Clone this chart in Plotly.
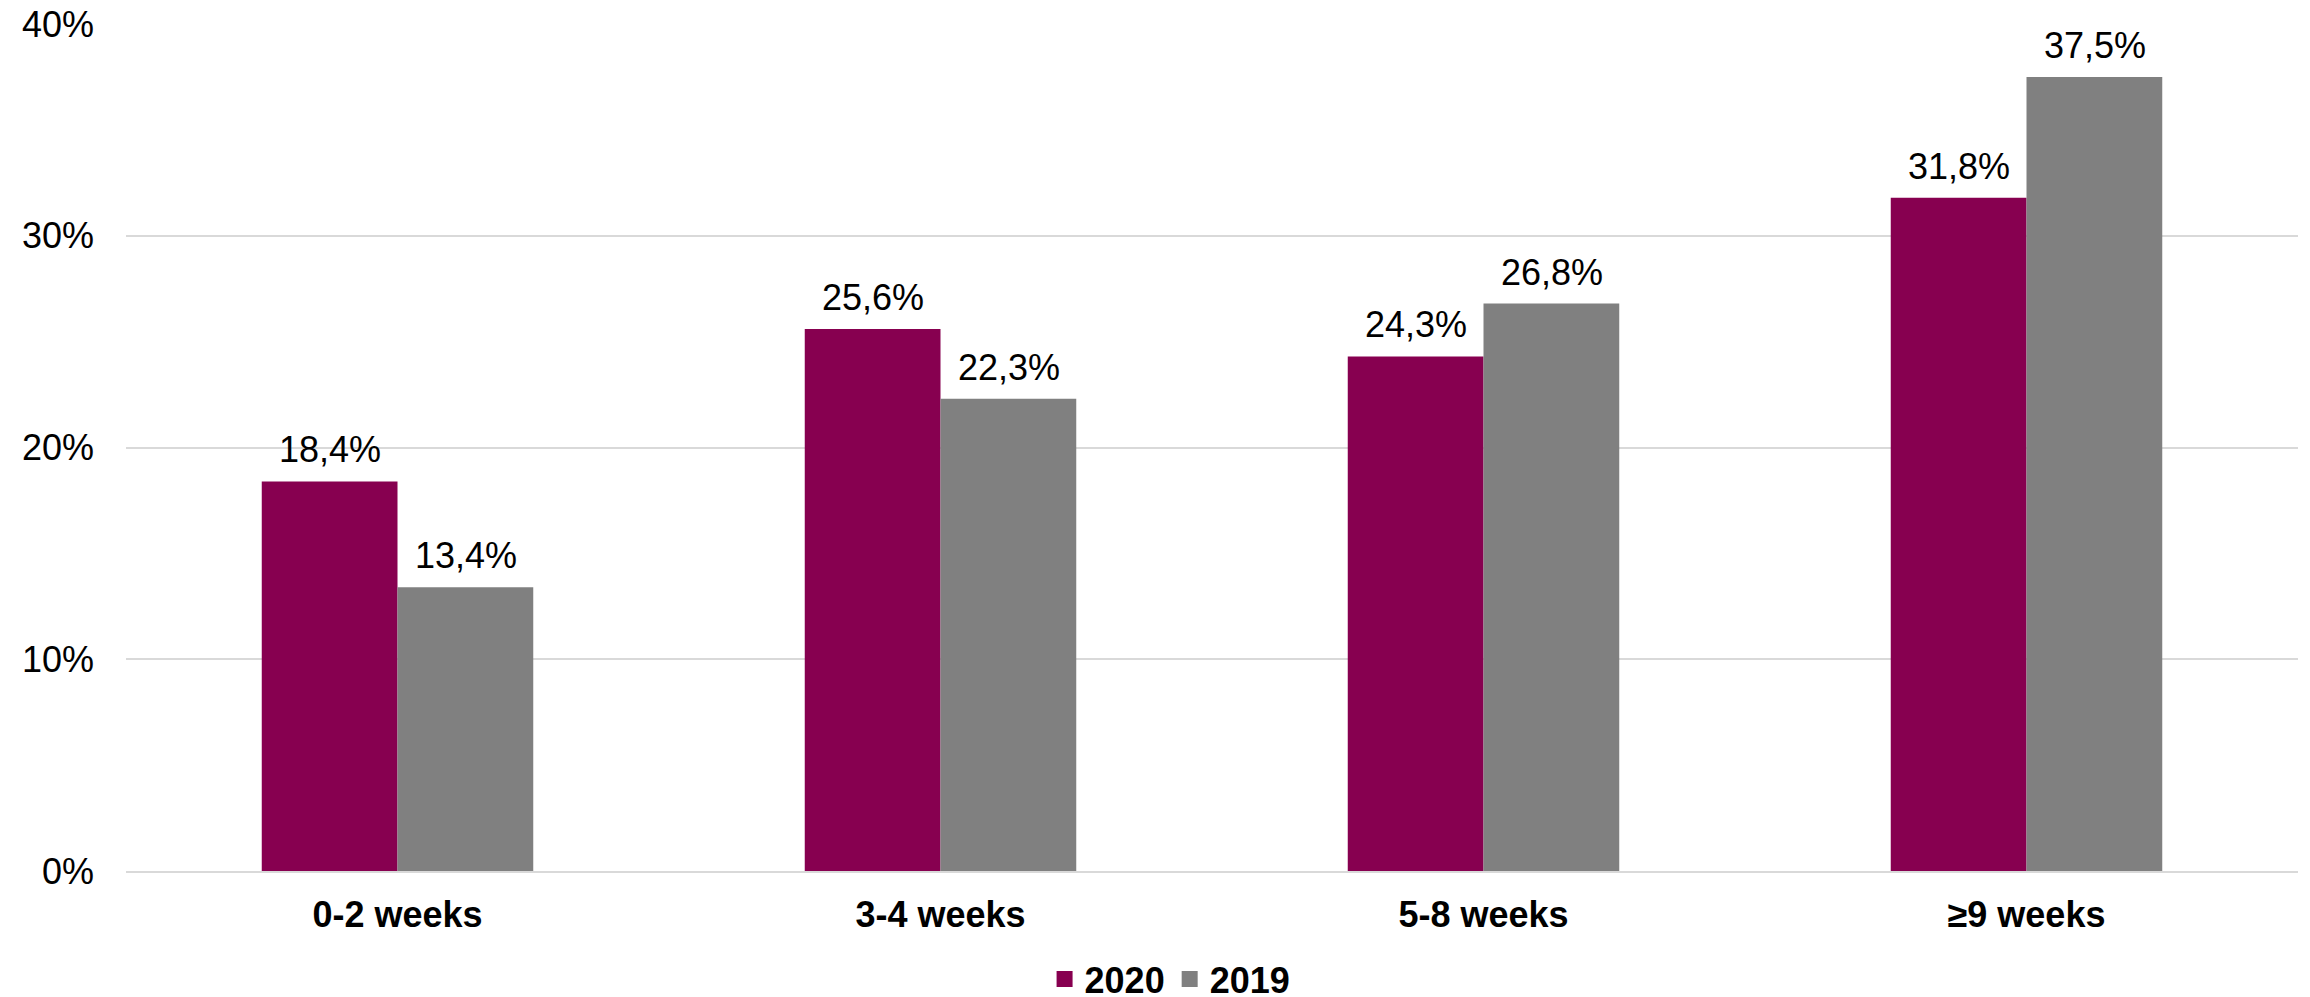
import plotly.graph_objects as go

categories = ["0-2 weeks", "3-4 weeks", "5-8 weeks", "≥9 weeks"]
values_2020 = [18.4, 25.6, 24.3, 31.8]
values_2019 = [13.4, 22.3, 26.8, 37.5]
series_names = ["2020", "2019"]
y_ticks = [0, 10, 20, 30, 40]
y_tick_labels = ["0%", "10%", "20%", "30%", "40%"]

COL_2020 = "#870050"
COL_2019 = "#808080"
FONT = "Arial, Liberation Sans, sans-serif"

fig = go.Figure()
series = [(series_names[0], values_2020, COL_2020, -1),
          (series_names[1], values_2019, COL_2019, 1)]
for name, vals, col, side in series:
    fig.add_trace(go.Bar(
        x=categories, y=vals, name=name,
        marker=dict(color=col, line=dict(width=0)),
        showlegend=False, hoverinfo="x+y",
    ))
    # legend entry with a larger square swatch
    fig.add_trace(go.Scatter(
        x=[None], y=[None], mode="markers", name=name,
        marker=dict(symbol="square", size=16, color=col),
        showlegend=True, hoverinfo="skip",
    ))
    # value labels above each bar
    for cat, v in zip(categories, vals):
        fig.add_annotation(
            x=cat, y=v, xref="x", yref="y",
            text=f"{v:.1f}".replace(".", ",") + "%",
            showarrow=False, xanchor="center", yanchor="bottom",
            xshift=side * 68, yshift=9,
            font=dict(family=FONT, size=36, color="black"),
        )

fig.update_layout(
    width=2302, height=989,
    margin=dict(l=118, r=12, t=16, b=126, autoexpand=False),
    paper_bgcolor="white", plot_bgcolor="white",
    barmode="group", bargap=0.5, bargroupgap=0,
    font=dict(family=FONT, color="black"),
    legend=dict(orientation="h", x=0.4807, xanchor="center",
                yref="container", y=0.0182, yanchor="middle",
                font=dict(family=FONT, size=36, color="black", weight="bold"),
                bgcolor="rgba(0,0,0,0)"),
)
fig.update_xaxes(
    showgrid=False, showline=True, linecolor="#D9D9D9", linewidth=2,
    ticks="", ticklabelstandoff=11, automargin=False,
    tickfont=dict(family=FONT, size=36, color="black", weight="bold"),
)
fig.update_yaxes(
    range=[0, 40], tickvals=y_ticks, ticktext=y_tick_labels,
    showgrid=True, gridcolor="#D9D9D9", gridwidth=2,
    zeroline=False, showline=False, ticks="", ticklabelstandoff=31,
    ticklabeloverflow="allow", automargin=False,
    tickfont=dict(family=FONT, size=36, color="black"),
)

fig.write_html("out.html")
